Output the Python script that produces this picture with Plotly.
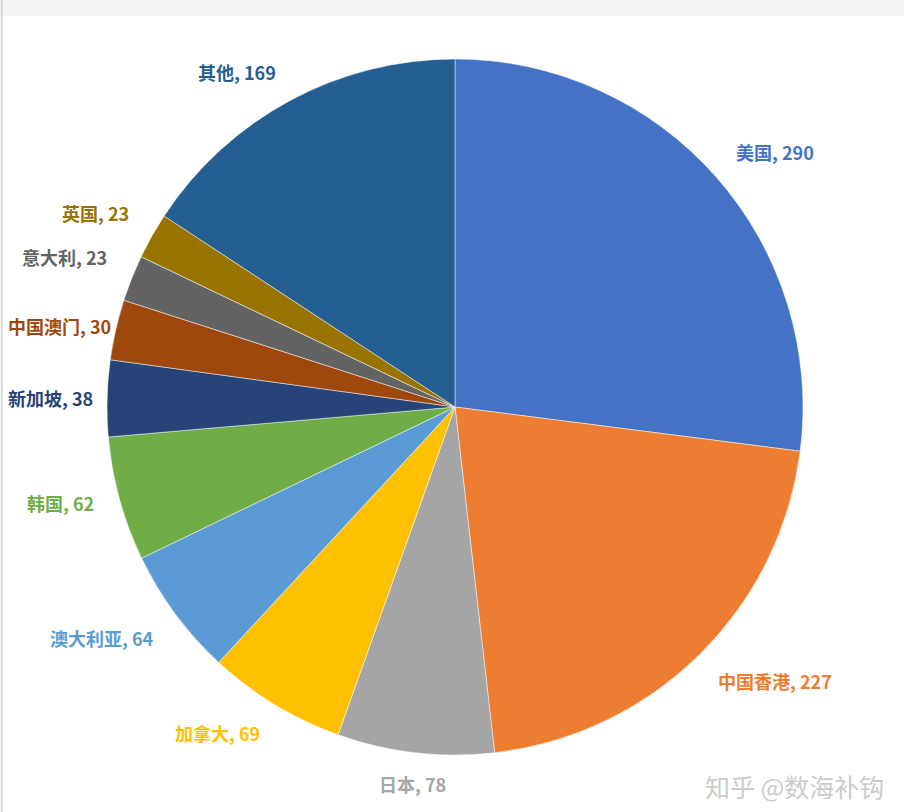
import math
import plotly.graph_objects as go

# slice data, clockwise from 12 o'clock
regions = ["美国", "中国香港", "日本", "加拿大", "澳大利亚", "韩国",
           "新加坡", "中国澳门", "意大利", "英国", "其他"]
counts = [290, 227, 78, 69, 64, 62, 38, 30, 23, 23, 169]
colors = ["#4472C4", "#ED7D31", "#A5A5A5", "#FFC000", "#5B9BD5", "#70AD47",
          "#264478", "#9E480E", "#636363", "#997300", "#255E91"]

W, H = 904, 812
CX, CY, R = 455, 407, 348   # pie centre / radius in pixels
GAP_X, GAP_Y = 24, 16
FONT = "Noto Sans CJK SC"
LABEL_SIZE = 18

fig = go.Figure()
fig.add_trace(go.Pie(
    labels=regions, values=counts, sort=False, direction="clockwise",
    rotation=0, textinfo="none", hoverinfo="label+value",
    marker=dict(colors=colors, line=dict(color="rgba(255,255,255,0.6)", width=0.8)),
    domain=dict(x=[(CX - R) / W, (CX + R) / W],
                y=[(H - CY - R) / H, (H - CY + R) / H]),
    showlegend=False,
))


def text_width(s, size):
    return sum(size if ord(ch) > 0x2E80 else size * 0.56 for ch in s)


# outside-end data labels, placed from each slice's mid angle
total = sum(counts)
cum = 0
for name, v, col in zip(regions, counts, colors):
    mid = (cum + v / 2) / total * 2 * math.pi
    cum += v
    s, c = math.sin(mid), math.cos(mid)
    px = CX + (R + GAP_X) * s
    py = CY - (R + GAP_Y) * c
    xa = "left" if s > 0.25 else "right" if s < -0.25 else "center"
    ya = "bottom" if c > 0.3 else "top" if c < -0.3 else "middle"
    label = f"{name}, {v}"
    if xa == "right" and px - text_width(label, LABEL_SIZE) < 6:
        xa, px = "left", 6
    fig.add_annotation(
        x=px / W, y=1 - py / H, xref="paper", yref="paper",
        xanchor=xa, yanchor=ya, showarrow=False,
        text=f"<b>{label}</b>",
        font=dict(family=FONT, size=LABEL_SIZE, color=col),
    )

# watermark
fig.add_annotation(
    x=0.98, y=0.008, xref="paper", yref="paper", xanchor="right", yanchor="bottom",
    showarrow=False, text="知乎 @数海补钩",
    font=dict(family=FONT, size=25, color="#cbcbcb"),
)

# faint frame of the screenshot
fig.add_shape(type="line", xref="paper", yref="paper", x0=0.002, x1=0.002, y0=0, y1=1,
              line=dict(color="#d8d8d8", width=2))
fig.add_shape(type="rect", xref="paper", yref="paper", x0=0, x1=1, y0=0.98, y1=1,
              fillcolor="#f4f4f4", line=dict(width=0), layer="below")

fig.update_layout(
    width=W, height=H, margin=dict(l=0, r=0, t=0, b=0),
    paper_bgcolor="white", plot_bgcolor="white",
    font=dict(family=FONT),
)

fig.write_html("out.html", config={"displayModeBar": False},
               post_script="document.body.style.margin='0';document.body.style.overflow='hidden';")
